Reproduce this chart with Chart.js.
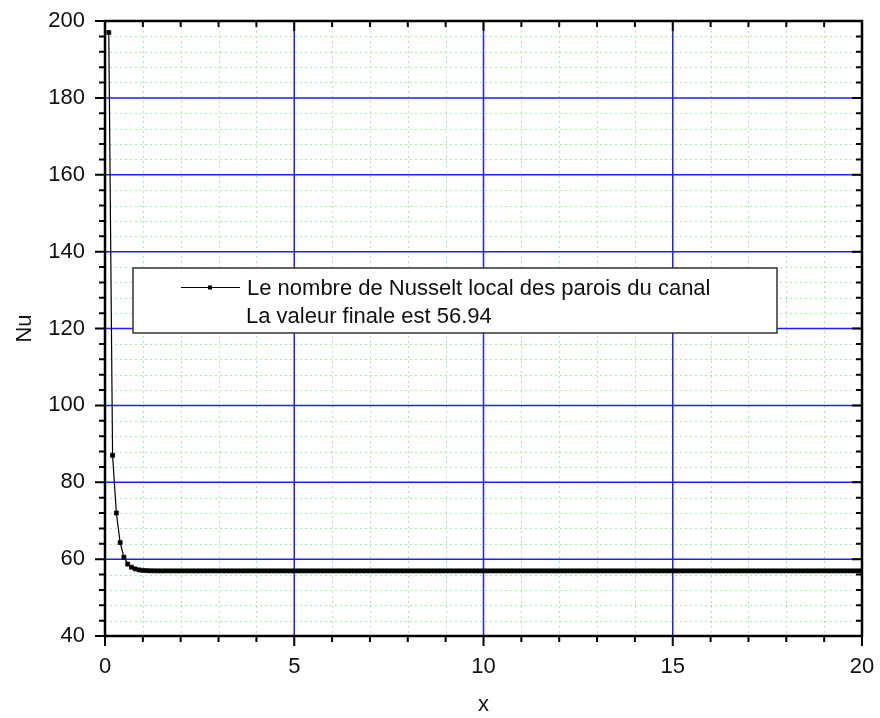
<!DOCTYPE html>
<html>
<head>
<meta charset="utf-8">
<script src="https://cdn.jsdelivr.net/npm/chart.js@4.4.1/dist/chart.umd.min.js"></script>
<style>
  html, body { margin: 0; padding: 0; background: #fff; }
  #wrap { width: 880px; height: 718px; }
</style>
</head>
<body>
<div id="wrap"><canvas id="nuChart" width="880" height="718"></canvas></div>
<script>
const FONT = "'Liberation Sans', Arial, sans-serif";

// axis ticks (labelled) and minor spacing
const xTicks = [0, 5, 10, 15, 20];
const yTicks = [40, 60, 80, 100, 120, 140, 160, 180, 200];
const xMinorStep = 1;
const yMinorStep = 4;

// position along the channel
const xs = [
  0.1, 0.2, 0.3, 0.4, 0.5, 0.6, 0.7, 0.8, 0.9, 1.0,
  1.1, 1.2, 1.3, 1.4, 1.5, 1.6, 1.7, 1.8, 1.9, 2.0,
  2.1, 2.2, 2.3, 2.4, 2.5, 2.6, 2.7, 2.8, 2.9, 3.0,
  3.1, 3.2, 3.3, 3.4, 3.5, 3.6, 3.7, 3.8, 3.9, 4.0,
  4.1, 4.2, 4.3, 4.4, 4.5, 4.6, 4.7, 4.8, 4.9, 5.0,
  5.1, 5.2, 5.3, 5.4, 5.5, 5.6, 5.7, 5.8, 5.9, 6.0,
  6.1, 6.2, 6.3, 6.4, 6.5, 6.6, 6.7, 6.8, 6.9, 7.0,
  7.1, 7.2, 7.3, 7.4, 7.5, 7.6, 7.7, 7.8, 7.9, 8.0,
  8.1, 8.2, 8.3, 8.4, 8.5, 8.6, 8.7, 8.8, 8.9, 9.0,
  9.1, 9.2, 9.3, 9.4, 9.5, 9.6, 9.7, 9.8, 9.9, 10.0,
  10.1, 10.2, 10.3, 10.4, 10.5, 10.6, 10.7, 10.8, 10.9, 11.0,
  11.1, 11.2, 11.3, 11.4, 11.5, 11.6, 11.7, 11.8, 11.9, 12.0,
  12.1, 12.2, 12.3, 12.4, 12.5, 12.6, 12.7, 12.8, 12.9, 13.0,
  13.1, 13.2, 13.3, 13.4, 13.5, 13.6, 13.7, 13.8, 13.9, 14.0,
  14.1, 14.2, 14.3, 14.4, 14.5, 14.6, 14.7, 14.8, 14.9, 15.0,
  15.1, 15.2, 15.3, 15.4, 15.5, 15.6, 15.7, 15.8, 15.9, 16.0,
  16.1, 16.2, 16.3, 16.4, 16.5, 16.6, 16.7, 16.8, 16.9, 17.0,
  17.1, 17.2, 17.3, 17.4, 17.5, 17.6, 17.7, 17.8, 17.9, 18.0,
  18.1, 18.2, 18.3, 18.4, 18.5, 18.6, 18.7, 18.8, 18.9, 19.0,
  19.1, 19.2, 19.3, 19.4, 19.5, 19.6, 19.7, 19.8, 19.9, 20.0
];

// local Nusselt number on the channel walls
const nu = [
  197, 87, 72, 64.3, 60.5, 58.7, 57.9, 57.45, 57.2, 57.07,
  57.0, 56.97, 56.95, 56.94, 56.94, 56.94, 56.94, 56.94, 56.94, 56.94,
  56.94, 56.94, 56.94, 56.94, 56.94, 56.94, 56.94, 56.94, 56.94, 56.94,
  56.94, 56.94, 56.94, 56.94, 56.94, 56.94, 56.94, 56.94, 56.94, 56.94,
  56.94, 56.94, 56.94, 56.94, 56.94, 56.94, 56.94, 56.94, 56.94, 56.94,
  56.94, 56.94, 56.94, 56.94, 56.94, 56.94, 56.94, 56.94, 56.94, 56.94,
  56.94, 56.94, 56.94, 56.94, 56.94, 56.94, 56.94, 56.94, 56.94, 56.94,
  56.94, 56.94, 56.94, 56.94, 56.94, 56.94, 56.94, 56.94, 56.94, 56.94,
  56.94, 56.94, 56.94, 56.94, 56.94, 56.94, 56.94, 56.94, 56.94, 56.94,
  56.94, 56.94, 56.94, 56.94, 56.94, 56.94, 56.94, 56.94, 56.94, 56.94,
  56.94, 56.94, 56.94, 56.94, 56.94, 56.94, 56.94, 56.94, 56.94, 56.94,
  56.94, 56.94, 56.94, 56.94, 56.94, 56.94, 56.94, 56.94, 56.94, 56.94,
  56.94, 56.94, 56.94, 56.94, 56.94, 56.94, 56.94, 56.94, 56.94, 56.94,
  56.94, 56.94, 56.94, 56.94, 56.94, 56.94, 56.94, 56.94, 56.94, 56.94,
  56.94, 56.94, 56.94, 56.94, 56.94, 56.94, 56.94, 56.94, 56.94, 56.94,
  56.94, 56.94, 56.94, 56.94, 56.94, 56.94, 56.94, 56.94, 56.94, 56.94,
  56.94, 56.94, 56.94, 56.94, 56.94, 56.94, 56.94, 56.94, 56.94, 56.94,
  56.94, 56.94, 56.94, 56.94, 56.94, 56.94, 56.94, 56.94, 56.94, 56.94,
  56.94, 56.94, 56.94, 56.94, 56.94, 56.94, 56.94, 56.94, 56.94, 56.94,
  56.94, 56.94, 56.94, 56.94, 56.94, 56.94, 56.94, 56.94, 56.94, 56.94
];

const seriesLabel = "Le nombre de Nusselt local des parois du canal";
const finalLabel = "La valeur finale est " + nu[nu.length - 1].toFixed(2);

function steps(min, max, step) {
  const out = [];
  for (let v = min; v <= max + 1e-9; v += step) out.push(+v.toFixed(6));
  return out;
}

// keep the plot box fixed: no extra room for half-labels at the axis ends
function noEndPadding(s) {
  s.paddingTop = 0; s.paddingBottom = 0;
  s.paddingLeft = 0; s.paddingRight = 0;
}

// green dotted minor grid + blue major grid, under the curve
const gridPlugin = {
  id: "originGrid",
  beforeDatasetsDraw(chart) {
    const { ctx, chartArea: a, scales: { x, y } } = chart;
    ctx.save();
    ctx.lineWidth = 1;
    ctx.strokeStyle = "#a6eca6";
    ctx.setLineDash([2, 3]);
    steps(0, 20, xMinorStep).forEach(v => {
      if (xTicks.includes(v)) return;
      const px = Math.round(x.getPixelForValue(v)) + 0.5;
      ctx.beginPath(); ctx.moveTo(px, a.top); ctx.lineTo(px, a.bottom); ctx.stroke();
    });
    steps(40, 200, yMinorStep).forEach(v => {
      if (yTicks.includes(v)) return;
      const py = Math.round(y.getPixelForValue(v)) + 0.5;
      ctx.beginPath(); ctx.moveTo(a.left, py); ctx.lineTo(a.right, py); ctx.stroke();
    });
    ctx.setLineDash([]);
    ctx.strokeStyle = "#1f1fff";
    ctx.lineWidth = 1.5;
    xTicks.slice(1, -1).forEach(v => {
      const px = x.getPixelForValue(v);
      ctx.beginPath(); ctx.moveTo(px, a.top); ctx.lineTo(px, a.bottom); ctx.stroke();
    });
    yTicks.slice(1, -1).forEach(v => {
      const py = y.getPixelForValue(v);
      ctx.beginPath(); ctx.moveTo(a.left, py); ctx.lineTo(a.right, py); ctx.stroke();
    });
    ctx.restore();
  }
};

// black frame with outward ticks left/bottom and inward ticks top/right
const framePlugin = {
  id: "originFrame",
  afterDatasetsDraw(chart) {
    const { ctx, chartArea: a, scales: { x, y } } = chart;
    ctx.save();
    ctx.strokeStyle = "#000";
    ctx.lineWidth = 2;
    steps(0, 20, xMinorStep).forEach(v => {
      const len = xTicks.includes(v) ? 10 : 6;
      const px = x.getPixelForValue(v);
      ctx.beginPath();
      ctx.moveTo(px, a.bottom); ctx.lineTo(px, a.bottom + len);
      ctx.moveTo(px, a.top); ctx.lineTo(px, a.top + len);
      ctx.stroke();
    });
    steps(40, 200, yMinorStep).forEach(v => {
      const len = yTicks.includes(v) ? 10 : 6;
      const py = y.getPixelForValue(v);
      ctx.beginPath();
      ctx.moveTo(a.left, py); ctx.lineTo(a.left - len, py);
      ctx.moveTo(a.right, py); ctx.lineTo(a.right - len, py);
      ctx.stroke();
    });
    ctx.lineWidth = 2.5;
    ctx.strokeRect(a.left, a.top, a.right - a.left, a.bottom - a.top);
    ctx.restore();
  }
};

// boxed legend with the final value line
const legendBox = {
  id: "legendBox",
  afterDraw(chart) {
    const { ctx } = chart;
    const bx = 133, by = 268, bw = 644, bh = 65;
    ctx.save();
    ctx.fillStyle = "#fff";
    ctx.fillRect(bx, by, bw, bh);
    ctx.strokeStyle = "#333";
    ctx.lineWidth = 1.5;
    ctx.strokeRect(bx, by, bw, bh);
    ctx.strokeStyle = "#000";
    ctx.lineWidth = 1;
    ctx.beginPath(); ctx.moveTo(181, 287.5); ctx.lineTo(240, 287.5); ctx.stroke();
    ctx.fillStyle = "#000";
    ctx.fillRect(208, 285.5, 4, 4);
    ctx.font = "22px " + FONT;
    ctx.textBaseline = "middle";
    ctx.fillStyle = "#111";
    ctx.fillText(seriesLabel, 247, 289);
    ctx.fillText(finalLabel, 246, 317);
    ctx.restore();
  }
};

new Chart(document.getElementById("nuChart"), {
  type: "scatter",
  data: {
    datasets: [{
      label: seriesLabel,
      data: xs.map((v, i) => ({ x: v, y: nu[i] })),
      showLine: true,
      borderColor: "#000",
      borderWidth: 1.2,
      pointStyle: "rect",
      pointRadius: 2.8,
      pointBackgroundColor: "#000",
      pointBorderColor: "#000",
      pointBorderWidth: 0.8
    }]
  },
  options: {
    responsive: false,
    animation: false,
    devicePixelRatio: 1,
    layout: { padding: { top: 21, right: 18, left: 0, bottom: 0 } },
    plugins: { legend: { display: false }, tooltip: { enabled: false } },
    scales: {
      x: {
        type: "linear", min: 0, max: 20,
        afterBuildTicks: s => { s.ticks = xTicks.map(v => ({ value: v })); },
        afterFit: s => { s.height = 82; noEndPadding(s); },
        grid: { display: false, drawTicks: false },
        border: { display: false },
        ticks: { color: "#111", font: { size: 22, family: FONT }, padding: 18, maxRotation: 0 },
        title: { display: true, text: "x", color: "#111", font: { size: 22, family: FONT }, padding: { top: 0, bottom: 0 } }
      },
      y: {
        type: "linear", min: 40, max: 200,
        afterBuildTicks: s => { s.ticks = yTicks.map(v => ({ value: v })); },
        afterFit: s => { s.width = 105; noEndPadding(s); },
        grid: { display: false, drawTicks: false },
        border: { display: false },
        ticks: { color: "#111", font: { size: 22, family: FONT }, padding: 20 },
        title: { display: true, text: "Nu", color: "#111", font: { size: 22, family: FONT }, padding: { top: 12, bottom: 0 } }
      }
    }
  },
  plugins: [gridPlugin, framePlugin, legendBox]
});
</script>
</body>
</html>
